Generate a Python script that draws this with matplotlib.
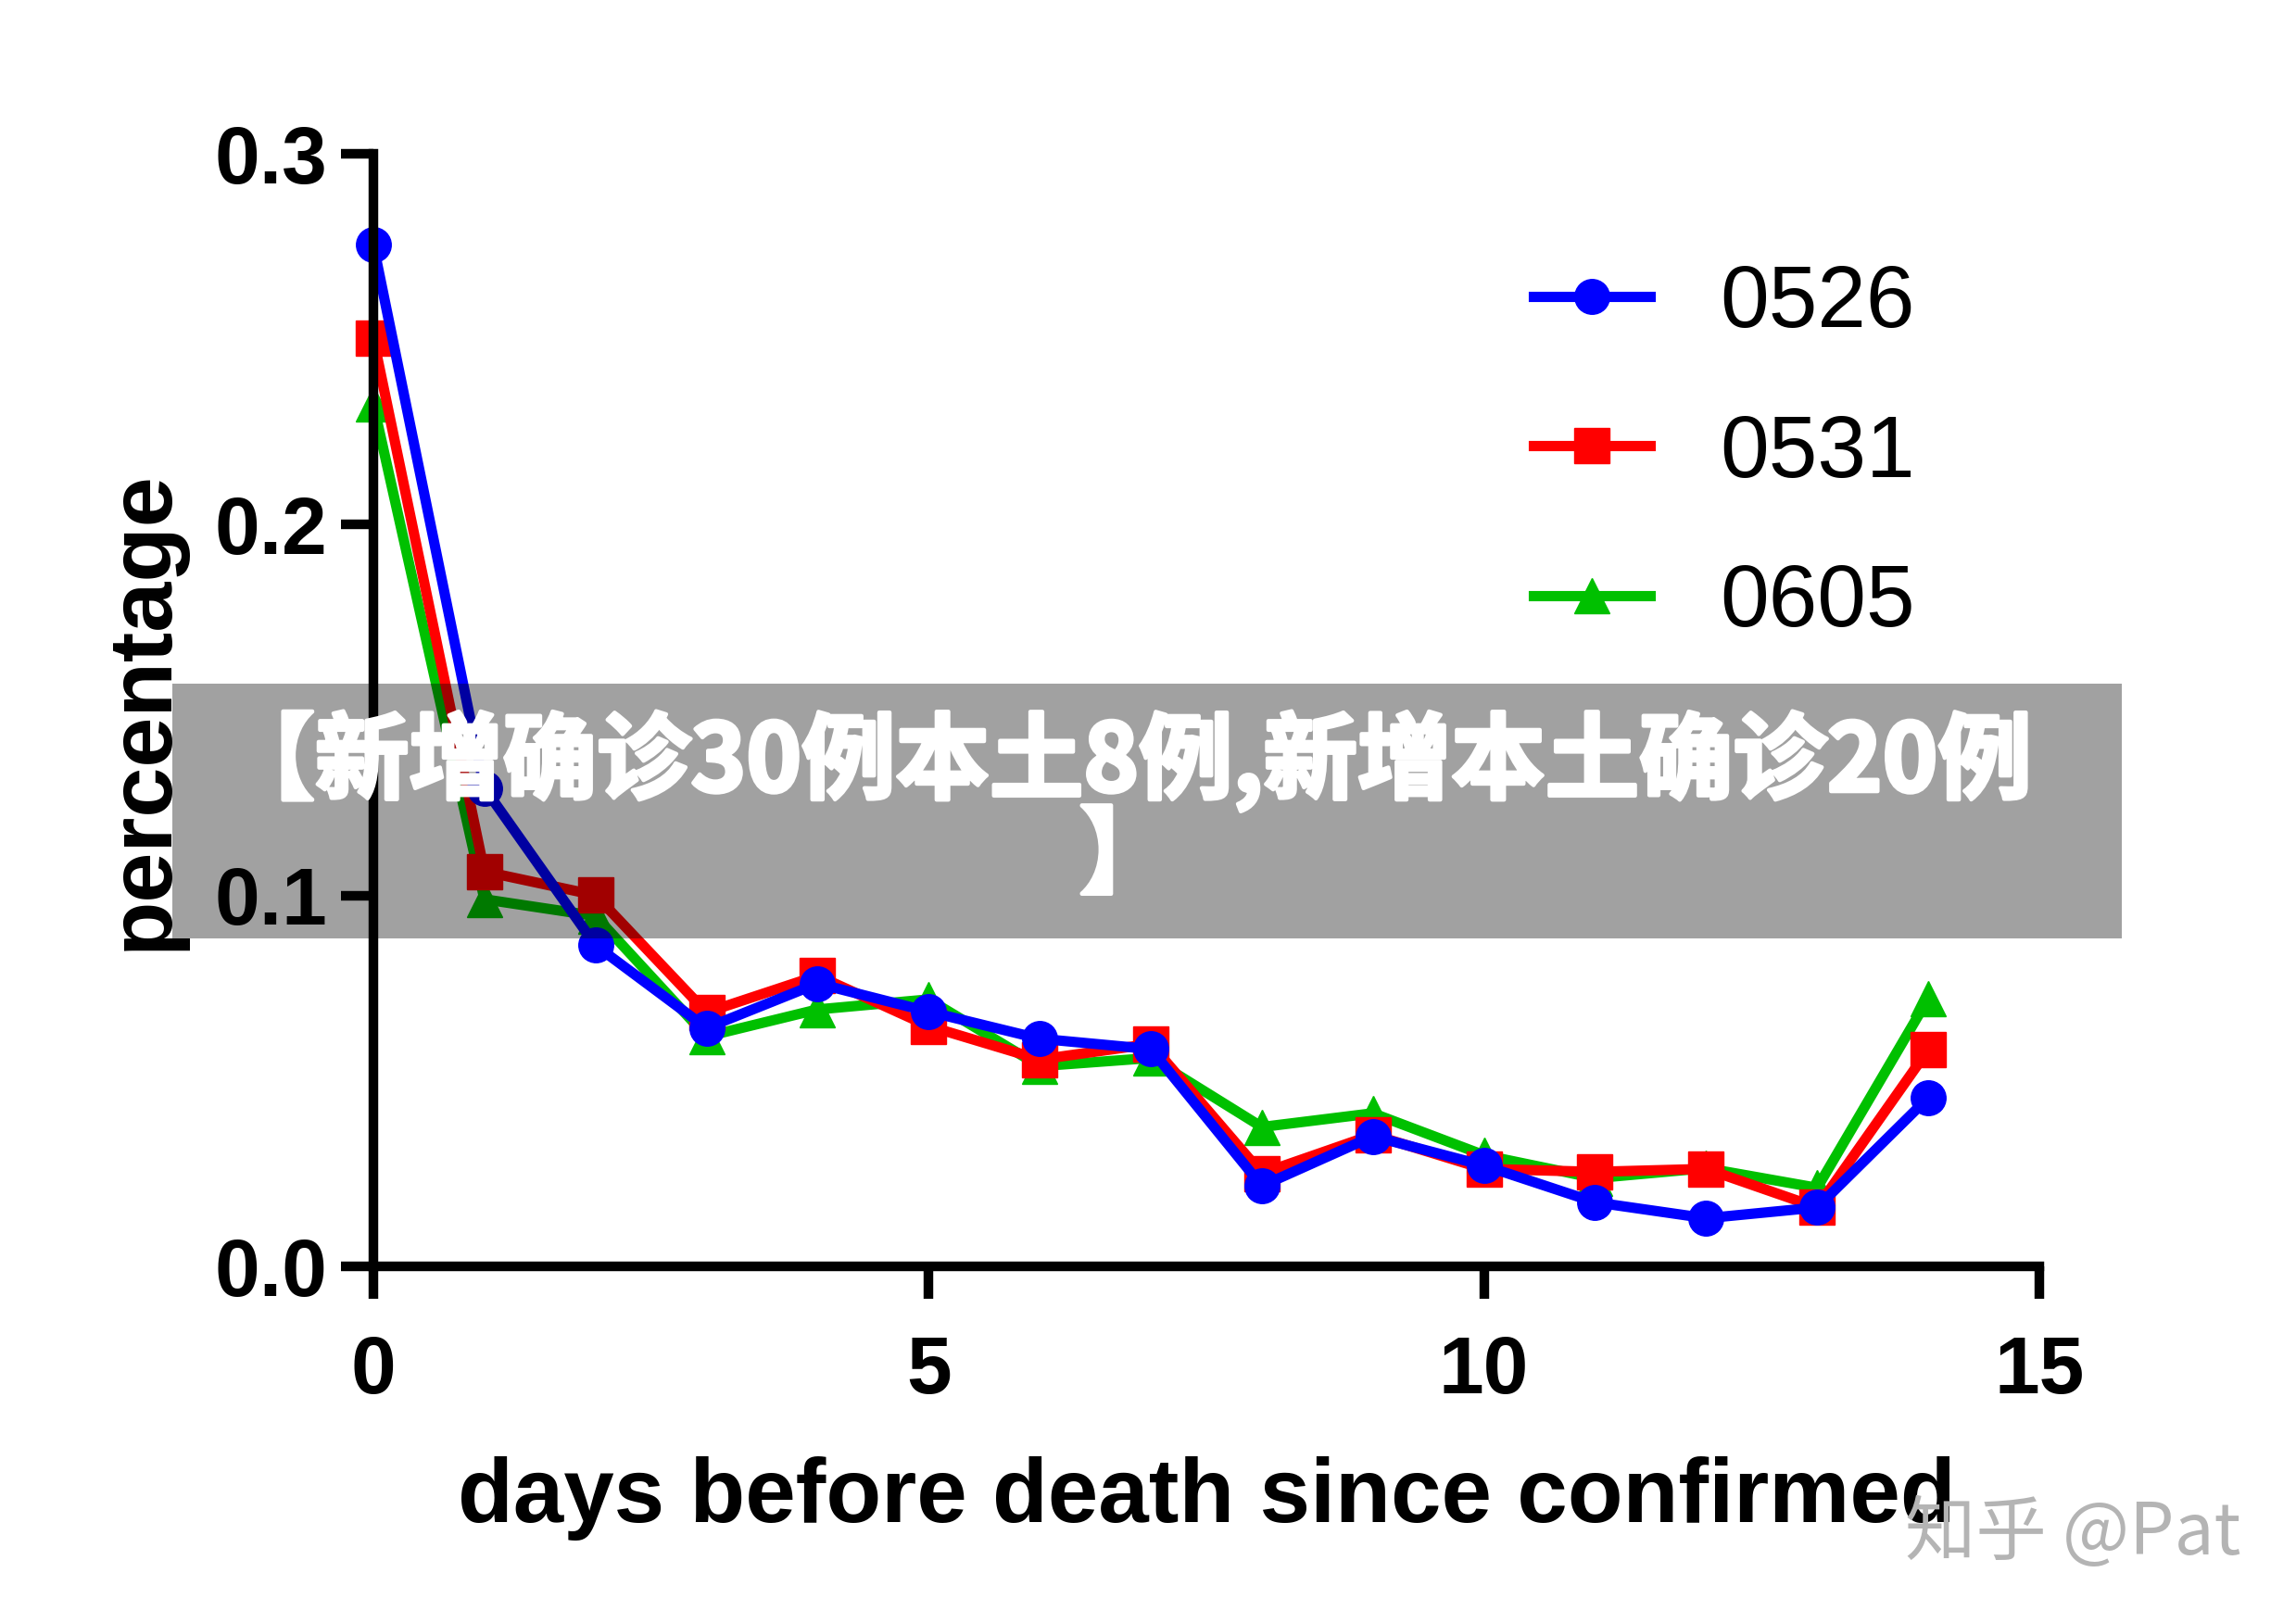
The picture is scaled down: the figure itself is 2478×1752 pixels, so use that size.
import matplotlib
matplotlib.use('Agg')
import matplotlib.pyplot as plt
import matplotlib.patheffects as pe
from matplotlib.patches import Rectangle
from matplotlib.ticker import FormatStrFormatter

days = list(range(15))
s0526 = [0.2755, 0.129, 0.0866, 0.0643, 0.0763, 0.0687, 0.0614, 0.0586, 0.0217,
         0.0351, 0.0272, 0.0173, 0.0130, 0.0159, 0.0455]
s0531 = [0.2503, 0.1065, 0.1001, 0.0685, 0.0784, 0.0648, 0.0558, 0.0600, 0.0251,
         0.0355, 0.0263, 0.0255, 0.0263, 0.0159, 0.0584]
s0605 = [0.2325, 0.0990, 0.0945, 0.0620, 0.0693, 0.0720, 0.0540, 0.0562, 0.0376,
         0.0413, 0.0300, 0.0238, 0.0265, 0.0212, 0.0722]
labels = ['0526', '0531', '0605']
banner = '【新增确诊30例本土8例,新增本土确诊20例\n】'
watermark = '知乎 @Pat'

plt.rcParams['font.family'] = ['Liberation Sans', 'DejaVu Sans']

fig = plt.figure(figsize=(24.78, 17.52), dpi=100)
ax = fig.add_axes([0.1626, 0.2197, 0.7256, 0.6855])

lw = 8
ms = 27
hg, = ax.plot(days, s0605, color='#00c000', marker='^', lw=lw, ms=ms, clip_on=False, label=labels[2])
hr, = ax.plot(days, s0531, color='#ff0000', marker='s', lw=lw, ms=ms, clip_on=False, label=labels[1])
hb, = ax.plot(days, s0526, color='#0000ff', marker='o', lw=lw, ms=ms, clip_on=False, label=labels[0])

ax.set_xlim(0, 15)
ax.set_ylim(0, 0.3)
ax.set_xticks([0, 5, 10, 15])
ax.set_yticks([0, 0.1, 0.2, 0.3])
ax.yaxis.set_major_formatter(FormatStrFormatter('%.1f'))
for s in ['top', 'right']:
    ax.spines[s].set_visible(False)
for s in ['left', 'bottom']:
    ax.spines[s].set_linewidth(7.5)
ax.tick_params(axis='both', width=7.5, length=25, labelsize=63)
ax.tick_params(axis='x', pad=28)
ax.tick_params(axis='y', pad=11)
for t in ax.get_xticklabels() + ax.get_yticklabels():
    t.set_fontweight('bold')

ax.set_xlabel('days before death since confirmed', fontsize=70.5, fontweight='bold')
ax.set_ylabel('percentage', fontsize=70, fontweight='bold', va='center')
ax.xaxis.set_label_coords(0.5, -0.171)
ax.yaxis.set_label_coords(-0.138, 0.5)

ax.legend(handles=[hb, hr, hg], loc='upper left', bbox_to_anchor=(0.6679, 0.838),
          bbox_transform=fig.transFigure, frameon=False, fontsize=68,
          borderpad=0, borderaxespad=0, handlelength=1.33, handletextpad=0.8,
          labelspacing=0.77, numpoints=1)

# grey banner laid over the chart
fig.patches.append(Rectangle((0.0751, 0.4218), 0.849, 0.157, transform=fig.transFigure,
                             facecolor='black', alpha=0.37, edgecolor='none', zorder=5))
fig.text(0.4905, 0.502, banner, ha='center', va='center', multialignment='center',
         color='white', fontsize=73, fontweight='bold', linespacing=0.98,
         family=['Noto Sans CJK SC', 'DejaVu Sans'], zorder=6,
         path_effects=[pe.withStroke(linewidth=3, foreground='white')])
fig.text(0.9029, 0.0422, watermark, ha='center', va='baseline', color='#b4b4b4',
         fontsize=55, family=['Noto Sans CJK SC', 'DejaVu Sans'], zorder=7)

fig.savefig('out.png', dpi=100)
